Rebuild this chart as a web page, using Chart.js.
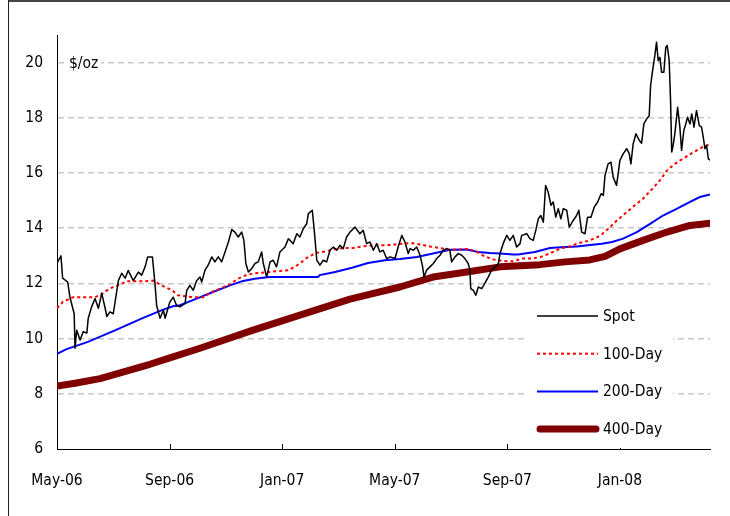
<!DOCTYPE html>
<html>
<head>
<meta charset="utf-8">
<script src="https://cdn.jsdelivr.net/npm/chart.js@4.4.1/dist/chart.umd.min.js"></script>
<style>
  html, body { margin: 0; padding: 0; background: #fff; }
  #wrap { position: relative; width: 730px; height: 516px; overflow: hidden; }
  #frame-top { position: absolute; left: 8px; top: 0; width: 722px; height: 2px; background: #444; }
  #frame-left { position: absolute; left: 8px; top: 0; width: 1px; height: 516px; background: #222; }
  canvas { position: absolute; left: 0; top: 0; }
</style>
</head>
<body>
<div id="wrap">
  <canvas id="silverChart" width="730" height="516"></canvas>
  <div id="frame-top"></div>
  <div id="frame-left"></div>
</div>
<script>
// x values are months since May-06
const tickMonths = [0, 4, 8, 12, 16, 20];
const tickLabels = ['May-06', 'Sep-06', 'Jan-07', 'May-07', 'Sep-07', 'Jan-08'];
const yTicks = [6, 8, 10, 12, 14, 16, 18, 20];
const seriesNames = ['Spot', '100-Day', '200-Day', '400-Day'];

const spot = [
    [0, 12.73], [0.14, 13.0], [0.20, 12.19], [0.38, 12.05], [0.46, 11.5], [0.61, 10.9], [0.64, 9.65],
    [0.70, 10.3], [0.82, 9.95], [0.93, 10.25], [1.06, 10.2], [1.11, 10.74], [1.23, 11.15], [1.35, 11.45],
    [1.47, 11.1], [1.59, 11.64], [1.71, 11.1], [1.77, 10.8], [1.88, 10.97], [2.00, 10.9], [2.18, 12.1],
    [2.30, 12.37], [2.42, 12.19], [2.53, 12.47], [2.71, 12.1], [2.89, 12.41], [3.01, 12.3], [3.13, 12.6],
    [3.22, 12.96], [3.39, 12.96], [3.48, 12.0], [3.54, 11.2], [3.66, 10.74], [3.78, 11.03], [3.84, 10.74],
    [4.01, 11.33], [4.13, 11.5], [4.25, 11.2], [4.37, 11.15], [4.55, 11.28], [4.61, 11.75], [4.72, 11.93],
    [4.84, 11.75], [4.96, 12.1], [5.08, 12.23], [5.14, 12.05], [5.26, 12.48], [5.37, 12.66], [5.50, 12.96],
    [5.61, 12.78], [5.73, 12.96], [5.85, 12.78], [5.97, 13.14], [6.09, 13.5], [6.21, 13.95], [6.32, 13.86],
    [6.44, 13.68], [6.56, 13.86], [6.64, 13.56], [6.71, 12.72], [6.80, 12.41], [6.92, 12.54], [7.03, 12.72],
    [7.15, 12.78], [7.27, 13.14], [7.33, 12.72], [7.45, 12.23], [7.57, 12.78], [7.68, 12.84], [7.80, 12.6],
    [7.92, 13.14], [8.10, 13.32], [8.22, 13.62], [8.28, 13.56], [8.39, 13.44], [8.52, 13.8], [8.63, 13.68],
    [8.75, 13.98], [8.87, 14.16], [8.93, 14.53], [9.07, 14.65], [9.14, 13.92], [9.23, 12.84], [9.34, 12.66],
    [9.46, 12.84], [9.58, 12.78], [9.70, 13.2], [9.82, 13.32], [9.94, 13.2], [10.05, 13.38], [10.17, 13.26],
    [10.29, 13.68], [10.41, 13.86], [10.59, 14.04], [10.76, 13.8], [10.88, 13.92], [11.00, 13.44], [11.12, 13.5],
    [11.24, 13.2], [11.36, 13.44], [11.47, 13.14], [11.59, 13.2], [11.71, 12.9], [11.83, 12.96], [12.01, 12.9],
    [12.12, 13.32], [12.25, 13.74], [12.36, 13.5], [12.48, 13.08], [12.54, 13.26], [12.66, 13.2], [12.78, 13.32],
    [12.90, 13.02], [12.99, 12.6], [13.04, 12.23], [13.13, 12.48], [13.25, 12.6], [13.37, 12.72], [13.49, 12.9],
    [13.61, 13.02], [13.72, 13.2], [13.84, 13.26], [13.96, 13.2], [14.02, 12.78], [14.14, 12.96], [14.26, 13.08],
    [14.38, 13.02], [14.49, 12.9], [14.61, 12.72], [14.67, 12.48], [14.70, 11.81], [14.79, 11.75], [14.88, 11.57],
    [14.97, 11.87], [15.09, 11.81], [15.20, 12.0], [15.32, 12.23], [15.44, 12.48], [15.56, 12.6], [15.68, 12.72],
    [15.74, 13.08], [15.85, 13.44], [15.98, 13.74], [16.09, 13.56], [16.21, 13.74], [16.33, 13.32], [16.45, 13.44],
    [16.51, 13.74], [16.69, 13.8], [16.80, 13.62], [16.92, 13.56], [17.01, 13.92], [17.10, 14.34], [17.19, 14.46],
    [17.28, 14.22], [17.36, 15.55], [17.45, 15.31], [17.55, 14.83], [17.63, 14.95], [17.72, 14.4], [17.81, 14.71],
    [17.90, 14.34], [17.99, 14.71], [18.11, 14.65], [18.20, 14.04], [18.34, 14.28], [18.46, 14.46], [18.54, 14.65],
    [18.64, 13.86], [18.76, 13.8], [18.85, 14.4], [18.97, 14.4], [19.09, 14.77], [19.21, 14.95], [19.33, 15.25],
    [19.41, 15.19], [19.47, 15.91], [19.58, 16.33], [19.68, 16.39], [19.76, 15.85], [19.88, 15.55], [20.00, 16.46],
    [20.12, 16.7], [20.24, 16.88], [20.33, 16.7], [20.39, 16.33], [20.47, 17.06], [20.57, 17.42], [20.69, 17.18],
    [20.77, 17.08], [20.85, 17.78], [20.95, 17.96], [21.04, 18.08], [21.09, 19.17], [21.16, 19.71], [21.24, 20.25],
    [21.30, 20.74], [21.36, 20.07], [21.42, 20.19], [21.48, 19.65], [21.56, 19.65], [21.63, 20.56], [21.68, 20.62],
    [21.75, 20.07], [21.80, 18.57], [21.84, 16.76], [21.89, 17.0], [21.95, 17.42], [22.05, 18.38], [22.13, 17.66],
    [22.19, 16.82], [22.27, 17.54], [22.34, 17.78], [22.40, 18.02], [22.49, 17.78], [22.55, 18.14], [22.63, 17.66],
    [22.72, 18.26], [22.82, 17.72], [22.90, 17.66], [22.96, 17.3], [23.02, 16.88], [23.08, 17.0], [23.14, 16.52],
    [23.20, 16.46]
];

const ma100 = [
    [0, 11.1], [0.21, 11.33], [0.57, 11.5], [1.35, 11.5], [1.60, 11.62], [1.88, 11.82], [2.17, 11.93],
    [2.49, 12.08], [3.13, 12.08], [3.41, 12.1], [3.77, 11.9], [4.09, 11.75], [4.30, 11.57], [4.83, 11.5],
    [5.19, 11.5], [5.51, 11.69], [5.86, 11.84], [6.15, 11.97], [6.43, 12.17], [6.79, 12.33], [7.14, 12.38],
    [7.50, 12.41], [7.82, 12.44], [8.21, 12.48], [8.45, 12.6], [8.70, 12.78], [8.92, 12.96], [9.24, 13.11],
    [9.59, 13.17], [9.95, 13.26], [10.23, 13.28], [10.52, 13.28], [10.87, 13.34], [11.23, 13.38], [11.58, 13.38],
    [11.94, 13.4], [12.26, 13.44], [12.61, 13.46], [12.90, 13.41], [13.25, 13.34], [13.61, 13.28], [13.96, 13.22],
    [14.32, 13.23], [14.60, 13.25], [14.92, 13.14], [15.20, 12.98], [15.49, 12.87], [15.84, 12.81], [16.20, 12.8],
    [16.52, 12.9], [16.87, 12.9], [17.19, 12.96], [17.55, 13.1], [17.87, 13.26], [18.22, 13.34], [18.54, 13.46],
    [18.86, 13.54], [19.15, 13.65], [19.36, 13.78], [19.64, 14.03], [19.89, 14.28], [20.25, 14.59], [20.53, 14.83],
    [20.82, 15.07], [21.10, 15.37], [21.42, 15.73], [21.67, 16.09], [21.95, 16.33], [22.24, 16.52], [22.56, 16.72],
    [22.88, 16.91], [23.20, 17.05]
];

const ma200 = [
    [0, 9.45], [0.34, 9.62], [1.10, 9.88], [2.06, 10.3], [3.02, 10.73], [3.73, 11.03], [4.12, 11.17],
    [4.37, 11.21], [4.96, 11.45], [5.54, 11.69], [6.15, 11.93], [6.61, 12.09], [7.03, 12.17], [7.39, 12.21],
    [7.57, 12.23], [9.27, 12.23], [9.34, 12.3], [9.88, 12.41], [10.48, 12.57], [11.05, 12.74], [11.65, 12.84],
    [12.18, 12.88], [12.79, 12.96], [13.36, 13.08], [13.96, 13.22], [14.56, 13.23], [14.96, 13.14], [15.38, 13.1],
    [15.74, 13.08], [16.20, 13.05], [16.38, 13.05], [16.98, 13.14], [17.51, 13.28], [18.05, 13.32], [18.47, 13.34],
    [18.86, 13.38], [19.36, 13.44], [19.72, 13.5], [20.11, 13.62], [20.60, 13.86], [21.07, 14.16], [21.53, 14.46],
    [22.03, 14.71], [22.49, 14.95], [22.84, 15.13], [23.20, 15.22]
];

const ma400 = [
    [0, 8.28], [0.64, 8.38], [1.53, 8.55], [3.30, 9.07], [4.01, 9.3], [5.08, 9.65], [6.86, 10.27],
    [8.63, 10.85], [10.41, 11.43], [12.18, 11.87], [13.36, 12.23], [14.56, 12.41], [15.74, 12.6],
    [17.16, 12.68], [18.05, 12.78], [18.93, 12.85], [19.47, 12.98], [20.00, 13.25], [20.82, 13.56],
    [21.67, 13.86], [22.49, 14.1], [23.20, 14.18]
];

const FONT = '"Liberation Sans Narrow", "DejaVu Sans Condensed", "Liberation Sans", sans-serif';
const FONT_SIZE = 15.5;

function toPoints(pairs) {
    return pairs.map(p => ({ x: p[0], y: p[1] }));
}

// inward tick marks on the x axis
const innerTicks = {
    id: 'innerTicks',
    afterDraw(chart) {
        const ctx = chart.ctx;
        const xs = chart.scales.x;
        const bottom = chart.chartArea.bottom;
        ctx.save();
        ctx.strokeStyle = '#000';
        ctx.lineWidth = 1;
        tickMonths.slice(1).forEach(m => {
            const px = Math.round(xs.getPixelForValue(m)) + 0.5;
            ctx.beginPath();
            ctx.moveTo(px, bottom);
            ctx.lineTo(px, bottom - 5);
            ctx.stroke();
        });
        ctx.restore();
    }
};

// unit label and the boxed legend inside the plot
const overlay = {
    id: 'overlay',
    afterDraw(chart) {
        const ctx = chart.ctx;
        const area = chart.chartArea;
        const ys = chart.scales.y;
        ctx.save();
        ctx.font = FONT_SIZE + 'px ' + FONT;
        ctx.textBaseline = 'middle';

        const unitY = ys.getPixelForValue(20);
        ctx.fillStyle = '#fff';
        ctx.fillRect(area.left + 8, unitY - 10, 36, 20);
        ctx.fillStyle = '#000';
        ctx.fillText('$/oz', area.left + 12, unitY + 1);

        ctx.fillStyle = '#fff';
        ctx.fillRect(525, 298, 148, 150);

        chart.data.datasets.forEach((ds, i) => {
            const y = 316 + i * 37.7;
            ctx.beginPath();
            ctx.strokeStyle = ds.borderColor;
            ctx.lineWidth = ds.borderWidth;
            ctx.lineCap = ds.borderCapStyle || 'butt';
            ctx.setLineDash(ds.borderDash || []);
            ctx.moveTo(i === 3 ? 540 : 537, y);
            ctx.lineTo(i === 3 ? 596 : 598, y);
            ctx.stroke();
            ctx.setLineDash([]);
            ctx.fillStyle = '#000';
            ctx.fillText(ds.label, 603, y + 1);
        });
        ctx.restore();
    }
};

function initSilverChart() {
    const ctx = document.getElementById('silverChart');

    new Chart(ctx, {
        type: 'line',
        data: {
            datasets: [
                {
                    label: seriesNames[0],
                    data: toPoints(spot),
                    borderColor: '#000000',
                    borderWidth: 1.5,
                    borderJoinStyle: 'round'
                },
                {
                    label: seriesNames[1],
                    data: toPoints(ma100),
                    borderColor: '#ff0000',
                    borderWidth: 2,
                    borderDash: [3, 3]
                },
                {
                    label: seriesNames[2],
                    data: toPoints(ma200),
                    borderColor: '#0000ff',
                    borderWidth: 2
                },
                {
                    label: seriesNames[3],
                    data: toPoints(ma400),
                    borderColor: '#800000',
                    borderWidth: 7,
                    borderCapStyle: 'round',
                    borderJoinStyle: 'round'
                }
            ]
        },
        options: {
            responsive: false,
            animation: false,
            elements: {
                point: { radius: 0 },
                line: { tension: 0, fill: false }
            },
            layout: {
                padding: { left: 0, right: 20, top: 35, bottom: 0 }
            },
            plugins: {
                legend: { display: false },
                tooltip: { enabled: false }
            },
            scales: {
                x: {
                    type: 'linear',
                    min: 0,
                    max: 23.2,
                    afterBuildTicks: scale => {
                        scale.ticks = tickMonths.map(v => ({ value: v }));
                    },
                    afterFit: scale => {
                        scale.height = 67;
                    },
                    grid: { display: false, drawTicks: false },
                    border: { display: true, color: '#000', width: 1 },
                    ticks: {
                        autoSkip: false,
                        maxRotation: 0,
                        padding: 23,
                        color: '#000',
                        font: { family: FONT, size: FONT_SIZE }
                    ,
                        callback: value => tickLabels[tickMonths.indexOf(value)] || ''
                    }
                },
                y: {
                    min: 6,
                    max: 21,
                    afterBuildTicks: scale => {
                        scale.ticks = yTicks.map(v => ({ value: v }));
                    },
                    afterFit: scale => {
                        scale.width = 57;
                    },
                    grid: {
                        color: ctx => ctx.tick && ctx.tick.value === 6 ? 'rgba(0,0,0,0)' : '#c8c8c8',
                        lineWidth: 1.5,
                        drawTicks: false
                    },
                    border: { display: true, color: '#000', width: 1, dash: [6, 4] },
                    ticks: {
                        padding: 14,
                        color: '#000',
                        font: { family: FONT, size: FONT_SIZE }
                    }
                }
            }
        },
        plugins: [innerTicks, overlay]
    });
}

initSilverChart();
</script>
</body>
</html>
